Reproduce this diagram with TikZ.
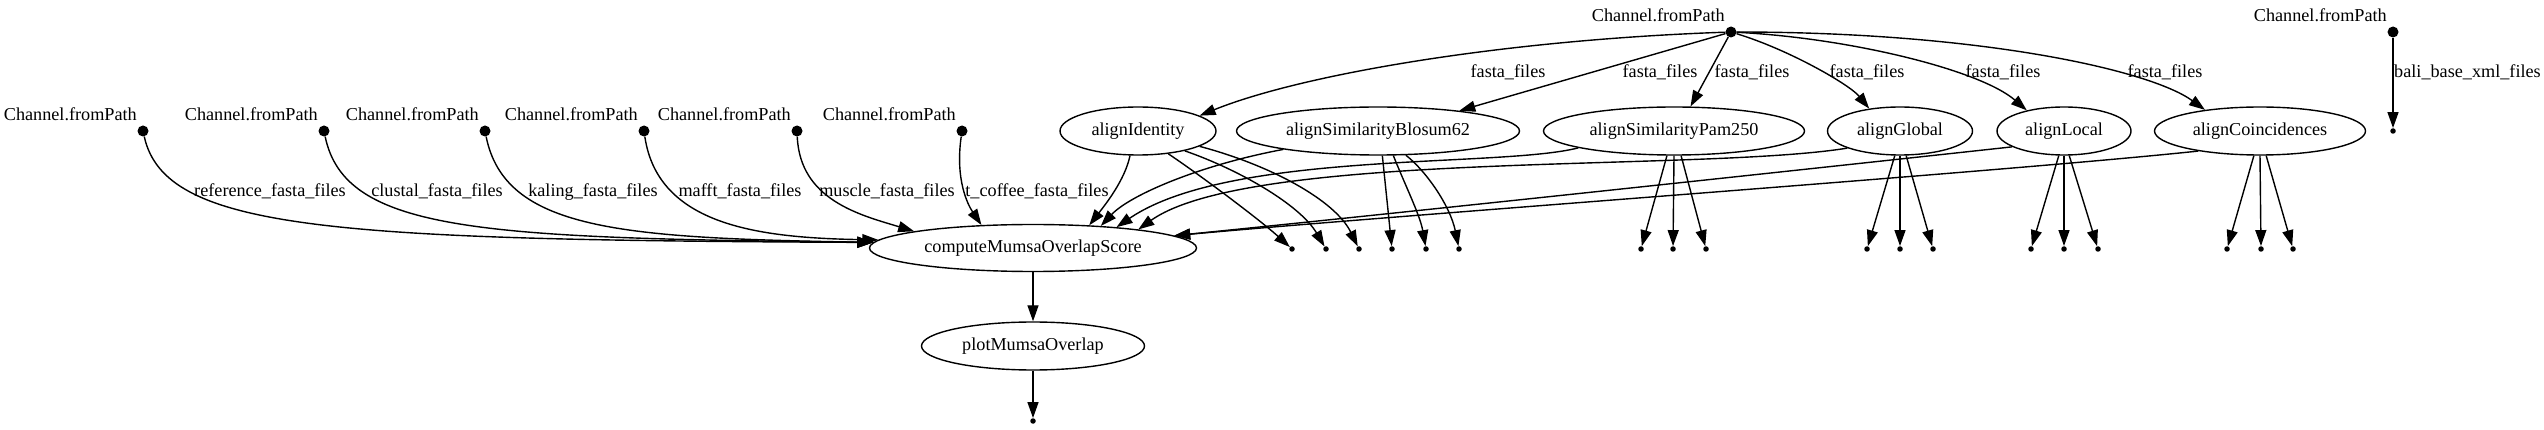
\documentclass[tikz,border=0pt]{standalone}
\usepackage{fontspec}
\setmainfont{Liberation Serif}
\usetikzlibrary{shapes.geometric,arrows.meta}
\begin{document}
\begin{tikzpicture}[x=1pt,y=-1pt,
  every node/.style={font=\fontsize{18.2pt}{22pt}\selectfont},
  lbl/.style={inner sep=0pt, text height=12.5pt, text depth=4pt},
  proc/.style={draw, ellipse, inner sep=0pt, line width=1.4pt, minimum height=48pt},
  src/.style={circle, fill=black, inner sep=0pt, minimum size=11pt},
  sink/.style={circle, fill=black, inner sep=0pt, minimum size=5.5pt},
  conn/.style={line width=1.4pt, -{Triangle[length=16pt,width=11pt]}},
]
\useasboundingbox (0,0) rectangle (2544,430);

% sources
\node[src] (cf) at (1731,32) {};
\node[lbl, anchor=east] (cfl) at (1725,17) {Channel.fromPath};
\node[src] (cfr) at (2393,32) {};
\node[lbl, anchor=east] (cfrl) at (2387,17) {Channel.fromPath};
\node[sink] (bali) at (2393,131) {};
\node[lbl, anchor=west] (balil) at (2394,73) {bali\_base\_xml\_files};

\node[src] (c1) at (143,131) {};
\node[src] (c2) at (324,131) {};
\node[src] (c3) at (485,131) {};
\node[src] (c4) at (644,131) {};
\node[src] (c5) at (797,131) {};
\node[src] (c6) at (962,131) {};
\node[lbl, anchor=east] (c1l) at (137,116) {Channel.fromPath};
\node[lbl, anchor=east] (c2l) at (318,116) {Channel.fromPath};
\node[lbl, anchor=east] (c3l) at (479,116) {Channel.fromPath};
\node[lbl, anchor=east] (c4l) at (638,116) {Channel.fromPath};
\node[lbl, anchor=east] (c5l) at (791,116) {Channel.fromPath};
\node[lbl, anchor=east] (c6l) at (956,116) {Channel.fromPath};

% processes
\node[proc, minimum width=156pt] (aI) at (1138,131) {alignIdentity};
\node[proc, minimum width=283pt] (aB) at (1378,131) {alignSimilarityBlosum62};
\node[proc, minimum width=261pt] (aP) at (1674,131) {alignSimilarityPam250};
\node[proc, minimum width=145pt] (aG) at (1900,131) {alignGlobal};
\node[proc, minimum width=134pt] (aL) at (2064,131) {alignLocal};
\node[proc, minimum width=211pt] (aC) at (2260,131) {alignCoincidences};
\node[proc, minimum width=327pt, minimum height=47pt] (comp) at (1033,248) {computeMumsaOverlapScore};
\node[proc, minimum width=223pt] (plot) at (1033,346) {plotMumsaOverlap};

% sinks
\node[sink] (t1) at (1292,249) {};
\node[sink] (t2) at (1326,249) {};
\node[sink] (t3) at (1359,249) {};
\node[sink] (t4) at (1392,249) {};
\node[sink] (t5) at (1426,249) {};
\node[sink] (t6) at (1459,249) {};
\node[sink] (t7) at (1641,249) {};
\node[sink] (t8) at (1673,249) {};
\node[sink] (t9) at (1706,249) {};
\node[sink] (t10) at (1867,249) {};
\node[sink] (t11) at (1900,249) {};
\node[sink] (t12) at (1933,249) {};
\node[sink] (t13) at (2031,249) {};
\node[sink] (t14) at (2064,249) {};
\node[sink] (t15) at (2098,249) {};
\node[sink] (t16) at (2227,249) {};
\node[sink] (t17) at (2261,249) {};
\node[sink] (t18) at (2293,249) {};
\node[sink] (fin) at (1033,421) {};

% edge labels
\node[lbl] (f1) at (1508,73) {fasta\_files};
\node[lbl] (f2) at (1660,73) {fasta\_files};
\node[lbl] (f3) at (1752,73) {fasta\_files};
\node[lbl] (f4) at (1867,73) {fasta\_files};
\node[lbl] (f5) at (2003,73) {fasta\_files};
\node[lbl] (f6) at (2165,73) {fasta\_files};
\node[lbl] (e1) at (270,192) {reference\_fasta\_files};
\node[lbl] (e2) at (437,192) {clustal\_fasta\_files};
\node[lbl] (e3) at (593,192) {kaling\_fasta\_files};
\node[lbl] (e4) at (740,192) {mafft\_fasta\_files};
\node[lbl] (e5) at (887,192) {muscle\_fasta\_files};
\node[lbl] (e6) at (1037,192) {t\_coffee\_fasta\_files};

% top fan-out
\draw[conn] (cf) .. controls (1500,40) and (1300,75) .. (aI.14);
\draw[conn] (cf) -- (aB.14.6);
\draw[conn] (cf) -- (aP.56);
\draw[conn] (cf) .. controls (1790,50) and (1850,85) .. (aG.144);
\draw[conn] (cf) .. controls (1850,38) and (1980,70) .. (aL.151.6);
\draw[conn] (cf) .. controls (1980,32) and (2150,70) .. (aC.159);
\draw[conn] (cfr) -- (bali);

% left sources into compute
\draw[conn] (c1) .. controls (165,230) and (330,240) .. (comp.178);
\draw[conn] (c2) .. controls (345,232) and (480,238) .. (comp.178);
\draw[conn] (c3) .. controls (505,230) and (620,238) .. (comp.178);
\draw[conn] (c4) .. controls (658,226) and (760,238) .. (comp.177);
\draw[conn] (c5) .. controls (800,200) and (860,215) .. (comp.172);
\draw[conn] (c6) .. controls (955,180) and (968,205) .. (comp.156);

% aligners into compute
\draw[conn] (aI.-108) .. controls (1125,180) and (1105,205) .. (comp.22.3);
\draw[conn] (aB.191) .. controls (1200,165) and (1130,195) .. (comp.18.7);
\draw[conn] (aP.190) .. controls (1500,168) and (1230,150) .. (comp.14.4);
\draw[conn] (aG.198) .. controls (1700,172) and (1250,150) .. (comp.10.5);
\draw[conn] (aL.197) .. controls (1800,170) and (1400,213) .. (comp.5);
\draw[conn] (aC.198) .. controls (2000,172) and (1400,215) .. (comp.5);

% aligners to sinks
\draw[conn] (aI.-37.6) .. controls (1200,175) and (1260,220) .. (t1);
\draw[conn] (aI.-23.5) .. controls (1240,170) and (1300,205) .. (t2);
\draw[conn] (aI.-14.9) .. controls (1270,165) and (1335,200) .. (t3);
\draw[conn] (aB.-80.5) -- (t4);
\draw[conn] (aB.-58) .. controls (1405,185) and (1420,215) .. (t5);
\draw[conn] (aB.-41.2) .. controls (1425,170) and (1450,205) .. (t6);
\draw[conn] (aP.-106) -- (t7);
\draw[conn] (aP.-90) -- (t8);
\draw[conn] (aP.-74) -- (t9);
\draw[conn] (aG.-102) -- (t10);
\draw[conn] (aG.-90) -- (t11);
\draw[conn] (aG.-76) -- (t12);
\draw[conn] (aL.-102) -- (t13);
\draw[conn] (aL.-90) -- (t14);
\draw[conn] (aL.-78) -- (t15);
\draw[conn] (aC.-104) -- (t16);
\draw[conn] (aC.-90) -- (t17);
\draw[conn] (aC.-76) -- (t18);

% bottom chain
\draw[conn] (comp) -- (plot);
\draw[conn] (plot) -- (fin);
\end{tikzpicture}
\end{document}
